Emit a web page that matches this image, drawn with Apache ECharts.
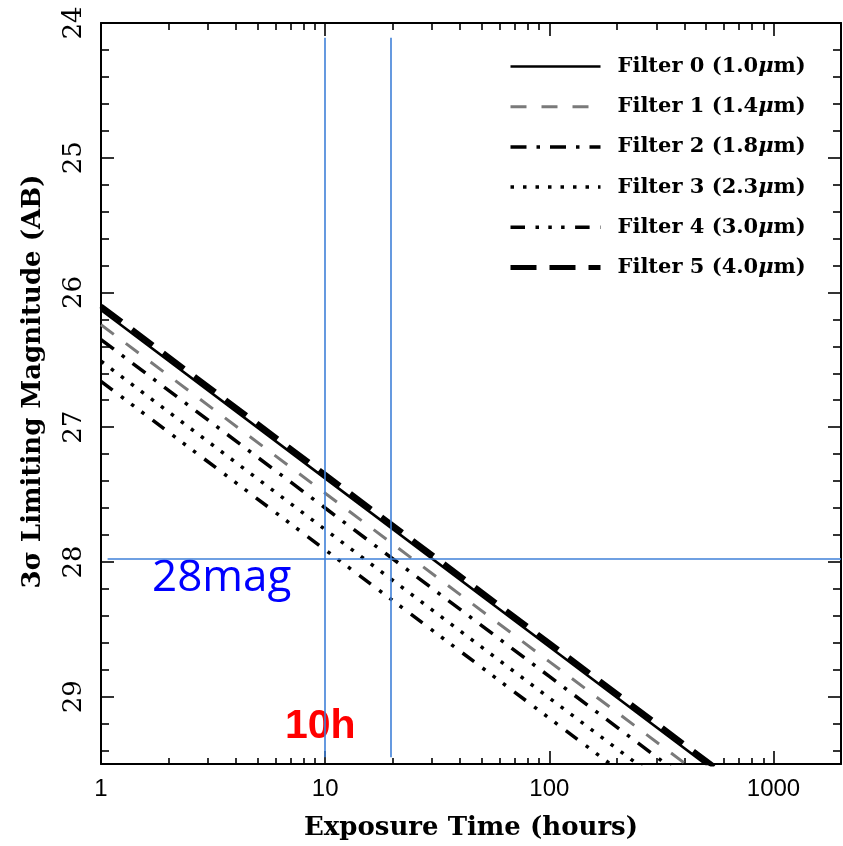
<!DOCTYPE html>
<html>
<head>
<meta charset="utf-8">
<script src="https://cdn.jsdelivr.net/npm/echarts@6/dist/echarts.min.js"></script>
<style>html,body{margin:0;padding:0;background:#fff;}#c{width:843px;height:846px;}</style>
</head>
<body>
<div id="c"></div>
<script>
// ---- data ----
const exposureHours = [1, 10, 100, 1000];
const filterNames = ['Filter 0 (1.0μm)', 'Filter 1 (1.4μm)', 'Filter 2 (1.8μm)', 'Filter 3 (2.3μm)', 'Filter 4 (3.0μm)', 'Filter 5 (4.0μm)'];
const filter0 = [26.13, 27.38, 28.63, 29.88];
const filter1 = [26.24, 27.49, 28.74, 29.99];
const filter2 = [26.35, 27.60, 28.85, 30.10];
const filter3 = [26.51, 27.76, 29.01, 30.26];
const filter4 = [26.66, 27.91, 29.16, 30.41];
const filter5 = [26.10, 27.35, 28.60, 29.85];
const xMajorTicks = [1, 10, 100, 1000];
const xMinorTicks = [2, 3, 4, 5, 6, 7, 8, 9, 20, 30, 40, 50, 60, 70, 80, 90, 200, 300, 400, 500, 600, 700, 800, 900];
const yMajorTicks = [24, 25, 26, 27, 28, 29];
const yMinorTicks = [24.2, 24.4, 24.6, 24.8, 25.2, 25.4, 25.6, 25.8, 26.2, 26.4, 26.6, 26.8, 27.2, 27.4, 27.6, 27.8, 28.2, 28.4, 28.6, 28.8, 29.2, 29.4];
const xRange = [1, 2000];
const yRange = [24, 29.5];
const guideHours = [10, 19.6];
const guideMag = 27.98;
const guideTop = 24.11;
const guideBottom = 29.45;
const guideStartHours = 1.07;

const allFilters = [filter0, filter1, filter2, filter3, filter4, filter5];
const styles = [
  {color: '#000', width: 2.6, type: 'solid'},
  {color: '#7a7a7a', width: 3, type: [16, 15]},
  {color: '#000', width: 3.5, type: [16, 10, 3.5, 10]},
  {color: '#000', width: 3.5, type: [3.5, 9]},
  {color: '#000', width: 3.5, type: [14.5, 10.5, 3.5, 9.3, 3.5, 9.3, 3.5, 10.5]},
  {color: '#000', width: 5, type: [26, 13]}
];

const serif = 'DejaVu Serif';
const chart = echarts.init(document.getElementById('c'), null, {renderer: 'canvas'});

function xAxisDef(pos, ticks, len, showLine, showLabel, extra) {
  return Object.assign({
    type: 'log', logBase: 10, min: xRange[0], max: xRange[1], position: pos,
    axisLine: {show: showLine, onZero: false, lineStyle: {color: '#000', width: 2}},
    axisTick: {show: true, inside: true, length: len, customValues: ticks, lineStyle: {color: '#000', width: 1.6}},
    axisLabel: {show: showLabel, customValues: ticks},
    splitLine: {show: false}, minorTick: {show: false}
  }, extra || {});
}
function yAxisDef(pos, ticks, len, showLine, showLabel, extra) {
  return Object.assign({
    type: 'value', inverse: true, min: yRange[0], max: yRange[1], position: pos,
    axisLine: {show: showLine, onZero: false, lineStyle: {color: '#000', width: 2}},
    axisTick: {show: true, inside: true, length: len, customValues: ticks, lineStyle: {color: '#000', width: 1.6}},
    axisLabel: {show: showLabel, customValues: ticks},
    splitLine: {show: false}
  }, extra || {});
}

const series = allFilters.map((vals, i) => ({
  name: filterNames[i],
  type: 'line',
  xAxisIndex: 0, yAxisIndex: 0,
  data: exposureHours.map((t, k) => [t, vals[k]]),
  symbol: 'none',
  clip: true,
  z: 3,
  lineStyle: {color: styles[i].color, width: styles[i].width, type: styles[i].type, cap: 'butt'},
  itemStyle: {color: styles[i].color}
}));

series.push({
  name: 'guides', type: 'line', xAxisIndex: 0, yAxisIndex: 0, data: [], symbol: 'none',
  markLine: {
    silent: true, symbol: 'none', animation: false, z: 6,
    label: {show: false},
    lineStyle: {color: '#3f80d8', width: 1.6, type: 'solid'},
    data: [
      [{coord: [guideHours[0], guideTop]}, {coord: [guideHours[0], guideBottom]}],
      [{coord: [guideHours[1], guideTop]}, {coord: [guideHours[1], guideBottom]}],
      [{coord: [guideStartHours, guideMag]}, {coord: [xRange[1], guideMag]}]
    ]
  }
});

const option = {
  animation: false,
  backgroundColor: '#fff',
  grid: {left: 101, right: 2, top: 23, bottom: 81, containLabel: false},
  xAxis: [
    xAxisDef('bottom', xMajorTicks, 13, true, true, {
      name: 'Exposure Time (hours)', nameLocation: 'middle', nameGap: 51,
      nameTextStyle: {fontFamily: serif, fontSize: 26, fontWeight: 'bold', color: '#000'},
      axisLabel: {show: true, customValues: xMajorTicks, margin: 13, fontFamily: 'Liberation Sans', fontSize: 24, color: '#000', formatter: v => String(v)}
    }),
    xAxisDef('bottom', xMinorTicks, 6, false, false),
    xAxisDef('top', xMajorTicks, 13, true, false),
    xAxisDef('top', xMinorTicks, 7, false, false)
  ],
  yAxis: [
    yAxisDef('left', yMajorTicks, 13, true, true, {
      name: '3σ Limiting Magnitude (AB)', nameLocation: 'middle', nameGap: 55, nameRotate: 90,
      nameTextStyle: {fontFamily: serif, fontSize: 26, fontWeight: 'bold', color: '#000', padding: [0, 0, 0, 24]},
      axisLabel: {show: true, customValues: yMajorTicks, rotate: 90, margin: 14, fontFamily: serif, fontSize: 26, color: '#000', formatter: v => String(v)}
    }),
    yAxisDef('left', yMinorTicks, 8, false, false),
    yAxisDef('right', yMajorTicks, 13, true, false),
    yAxisDef('right', yMinorTicks, 8, false, false)
  ],
  legend: {
    orient: 'vertical', left: 503, top: 51,
    itemWidth: 90, itemHeight: 20, itemGap: 19.2,
    selectedMode: false,
    itemStyle: {opacity: 0},
    data: filterNames.map((n, i) => ({name: n, lineStyle: {width: styles[i].width}, itemStyle: {opacity: 0}})),
    formatter: n => n.replace('μ', '{i|μ}'),
    textStyle: {
      fontFamily: serif, fontSize: 21, fontWeight: 'bold', color: '#000', lineHeight: 20, padding: [0, 0, 0, 12],
      rich: {i: {fontFamily: serif, fontSize: 21, fontWeight: 'bold', fontStyle: 'italic', color: '#000'}}
    }
  },
  graphic: [
    {type: 'text', left: 152, top: 556, z: 1, style: {text: '28mag', font: '44px "Open Sans"', fill: '#0000ff'}},
    {type: 'text', left: 285, top: 706, z: 1, style: {text: '10h', font: 'bold 41px "Liberation Sans"', fill: '#ff0000'}}
  ],
  series: series
};
chart.setOption(option);
</script>
</body>
</html>
